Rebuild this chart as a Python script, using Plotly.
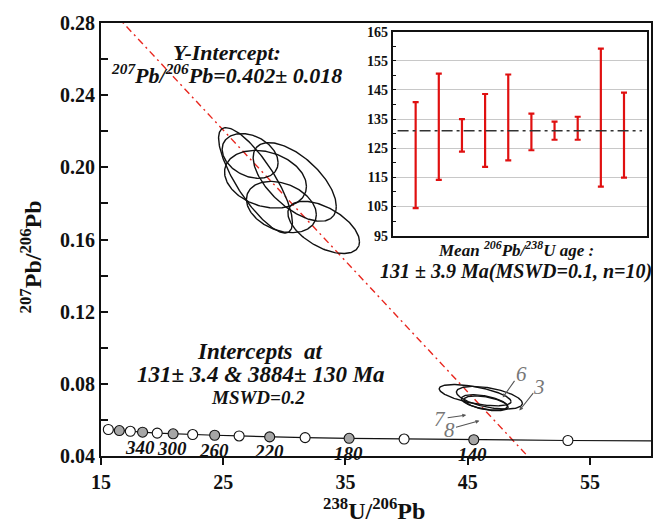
import numpy as np
import plotly.graph_objects as go

# ---------------- data ----------------
# Concordia age markers (Ma)
conc_age = [400, 380, 360, 340, 320, 300, 280, 260, 240, 220, 200, 180, 160, 140, 120]
conc_x = [15.6, 16.5, 17.4, 18.4, 19.6, 20.9, 22.5, 24.3, 26.3, 28.8, 31.7, 35.3, 39.8, 45.5, 53.2]
conc_y = [0.0547, 0.0541, 0.0537, 0.0532, 0.0527, 0.0523, 0.0519, 0.0515, 0.0511, 0.0506,
          0.0502, 0.0498, 0.0494, 0.0490, 0.0486]
conc_tail_x = [60.0]
conc_tail_y = [0.0484]
labelled_ages = [340, 300, 260, 220, 180, 140]
filled_ages = [380, 340, 300, 260, 220, 180, 140]

# Error ellipses: centre, half-extent in x and y, correlation
ell_x = [27.20, 27.64, 28.46, 30.85, 29.76, 33.22, 45.61, 46.78, 46.37, 46.51]
ell_y = [0.2063, 0.1928, 0.1934, 0.1919, 0.1780, 0.1667, 0.0737, 0.0723, 0.0697, 0.0692]
ell_hx = [2.29, 3.02, 3.35, 3.40, 2.86, 2.93, 2.94, 2.70, 1.88, 1.80]
ell_hy = [0.0124, 0.0292, 0.0160, 0.0218, 0.0142, 0.0145, 0.0059, 0.0063, 0.0043, 0.0041]
ell_rho = [-0.30, -0.80, -0.25, -0.62, -0.30, -0.55, -0.60, -0.50, -0.50, -0.50]

# spot labels for the lower ellipses: text position, leader start and end
spot_labels = ["6", "3", "7", "8"]
spot_tx = [49.37, 50.87, 42.70, 43.51]
spot_ty = [0.0856, 0.0784, 0.0604, 0.0544]
spot_lx0 = [48.92, 50.46, 43.24, 43.92]
spot_ly0 = [0.0825, 0.0757, 0.0611, 0.0557]
spot_lx1 = [47.87, 49.23, 44.88, 45.96]
spot_ly1 = [0.0724, 0.0652, 0.0627, 0.0595]

# Discordia: y-intercept and lower intercept point
y_intercept = 0.402
lower_int_x = 48.7
lower_int_y = 0.0487

# Inset: weighted mean 206Pb/238U ages
spot_idx = [1, 2, 3, 4, 5, 6, 7, 8, 9, 10]
age_hi = [140.8, 150.6, 135.0, 143.6, 150.3, 136.9, 134.1, 135.8, 159.2, 144.1]
age_lo = [104.4, 114.1, 123.8, 118.6, 120.8, 124.3, 127.9, 127.9, 111.8, 114.9]
mean_age = 131

x_ticks = [15, 25, 35, 45, 55]
inset_ticks = [95, 105, 115, 125, 135, 145, 155, 165]

FONT = "Liberation Serif"
INK = "#111111"

fig = go.Figure()

# discordia line
slope = (lower_int_y - y_intercept) / lower_int_x
disc_x = [0, (0.04 - y_intercept) / slope]
disc_y = [y_intercept + slope * v for v in disc_x]
fig.add_trace(go.Scatter(x=disc_x, y=disc_y, mode="lines",
                         line=dict(color="#e8261e", width=1.4, dash="7px,4px,2px,4px"),
                         hoverinfo="skip", showlegend=False))

# ellipses
t = np.linspace(0, 2 * np.pi, 181)
for cx, cy, hx, hy, r in zip(ell_x, ell_y, ell_hx, ell_hy, ell_rho):
    ex = cx + hx * np.cos(t)
    ey = cy + hy * (r * np.cos(t) + np.sqrt(1 - r * r) * np.sin(t))
    fig.add_trace(go.Scatter(x=ex, y=ey, mode="lines",
                             line=dict(color=INK, width=1.4),
                             hoverinfo="skip", showlegend=False))

# concordia curve
fig.add_trace(go.Scatter(x=conc_x + conc_tail_x, y=conc_y + conc_tail_y, mode="lines",
                         line=dict(color=INK, width=1.2),
                         hoverinfo="skip", showlegend=False))
fills = ["#a6a6a6" if a in filled_ages else "white" for a in conc_age]
fig.add_trace(go.Scatter(x=conc_x, y=conc_y, mode="markers",
                         marker=dict(size=10, color=fills, line=dict(color=INK, width=1.1)),
                         hoverinfo="skip", showlegend=False))

# inset error bars
mids = [(h + l) / 2 for h, l in zip(age_hi, age_lo)]
fig.add_trace(go.Scatter(x=spot_idx, y=mids, mode="markers", xaxis="x2", yaxis="y2",
                         marker=dict(size=1, color="rgba(0,0,0,0)"),
                         error_y=dict(type="data", symmetric=False,
                                      array=[h - m for h, m in zip(age_hi, mids)],
                                      arrayminus=[m - l for m, l in zip(mids, age_lo)],
                                      color="#e01010", thickness=2.2, width=3),
                         hoverinfo="skip", showlegend=False))


def note(x, y, text, size, ref="data", color=INK, **kw):
    d = dict(x=x, y=y, text=text, showarrow=False, xanchor="center", yanchor="middle",
             font=dict(family=FONT, size=size, color=color))
    if ref == "data":
        d.update(xref="x", yref="y")
    else:
        d.update(xref="paper", yref="paper")
    d.update(kw)
    return d


annotations = []
# concordia age labels
for a, x, y in zip(conc_age, conc_x, conc_y):
    if a in labelled_ages:
        shift = -3 if a == 340 else -1
        annotations.append(note(x, y, f"<b><i>{a}</i></b>", 19, yshift=-15, xshift=shift))
# spot labels with leaders
for lab, tx, ty, x0, y0, x1, y1 in zip(spot_labels, spot_tx, spot_ty, spot_lx0, spot_ly0, spot_lx1, spot_ly1):
    annotations.append(note(tx, ty, f"<i>{lab}</i>", 21, color="#777777"))
    annotations.append(dict(x=x1, y=y1, ax=x0, ay=y0, xref="x", yref="y", axref="x", ayref="y",
                            text="", showarrow=True, arrowhead=2, arrowsize=0.7, arrowwidth=1.1,
                            arrowcolor="#555555"))

annotations += [
    note(25.29, 0.2636, "<b><i>Y-Intercept:</i></b>", 22),
    note(25.25, 0.2516, "<b><i><sup>207</sup>Pb/<sup>206</sup>Pb=0.402\u00b1 0.018</i></b>", 22),
    note(27.99, 0.0978, "<b><i>Intercepts  at</i></b>", 23),
    note(28.07, 0.0849, "<b><i>131\u00b1 3.4 &amp; 3884\u00b1 130 Ma</i></b>", 23),
    note(27.83, 0.0722, "<b><i>MSWD=0.2</i></b>", 19),
    note(0.755, 0.477, "<b><i>Mean <sup>206</sup>Pb/<sup>238</sup>U age :</i></b>", 17, ref="paper"),
    note(0.755, 0.427, "<b><i>131 \u00b1 3.9 Ma(MSWD=0.1, n=10)</i></b>", 20, ref="paper"),
    note(0.497, -0.122, "<b><sup>238</sup>U/<sup>206</sup>Pb</b>", 24, ref="paper"),
    note(-0.128, 0.46, "<b><sup>207</sup>Pb/<sup>206</sup>Pb</b>", 24, ref="paper", textangle=-90),
]

shapes = [dict(type="line", xref="x2 domain", yref="y2", x0=0.02, x1=0.98, y0=mean_age, y1=mean_age,
               line=dict(color="#333333", width=1.6, dash="11px,4px,3px,4px"))]

tickfont = dict(family=FONT, size=20, color=INK, weight="bold")

fig.update_layout(
    width=665, height=526,
    margin=dict(l=101, r=13, t=12, b=70),
    plot_bgcolor="white", paper_bgcolor="white",
    showlegend=False,
    font=dict(family=FONT, color=INK),
    xaxis=dict(range=[15, 60], tickvals=x_ticks, ticks="outside", ticklen=7, tickwidth=1.5,
               tickcolor=INK, showline=True, linewidth=2, linecolor=INK, mirror=True,
               showgrid=False, zeroline=False, tickfont=tickfont),
    yaxis=dict(range=[0.04, 0.28], tick0=0.04, dtick=0.04, tickformat=".2f", ticks="inside",
               ticklen=7, tickwidth=1.5, tickcolor=INK,
               minor=dict(dtick=0.02, ticks="inside", ticklen=7, tickwidth=1.5, tickcolor=INK),
               showline=True, linewidth=2, linecolor=INK, mirror=True,
               showgrid=False, zeroline=False, tickfont=tickfont),
    xaxis2=dict(domain=[0.530, 0.993], anchor="y2", range=[0, 11], showticklabels=False,
                ticks="", showgrid=False, zeroline=False, showline=True, linewidth=1.5,
                linecolor=INK, mirror=True),
    yaxis2=dict(domain=[0.509, 0.980], anchor="x2", range=[95, 165], tickvals=inset_ticks,
                ticks="inside", ticklen=4, tickwidth=1, tickcolor=INK,
                minor=dict(dtick=5, tick0=95, ticks="inside", ticklen=4, tickwidth=1, tickcolor=INK,
                           showgrid=False),
                showgrid=True, gridcolor="#c8c8c8", gridwidth=1.2, zeroline=False,
                showline=True, linewidth=1.5, linecolor=INK, mirror=True,
                tickfont=dict(family=FONT, size=14, color=INK, weight="bold")),
    annotations=annotations,
    shapes=shapes,
)

fig.write_html("out.html")
